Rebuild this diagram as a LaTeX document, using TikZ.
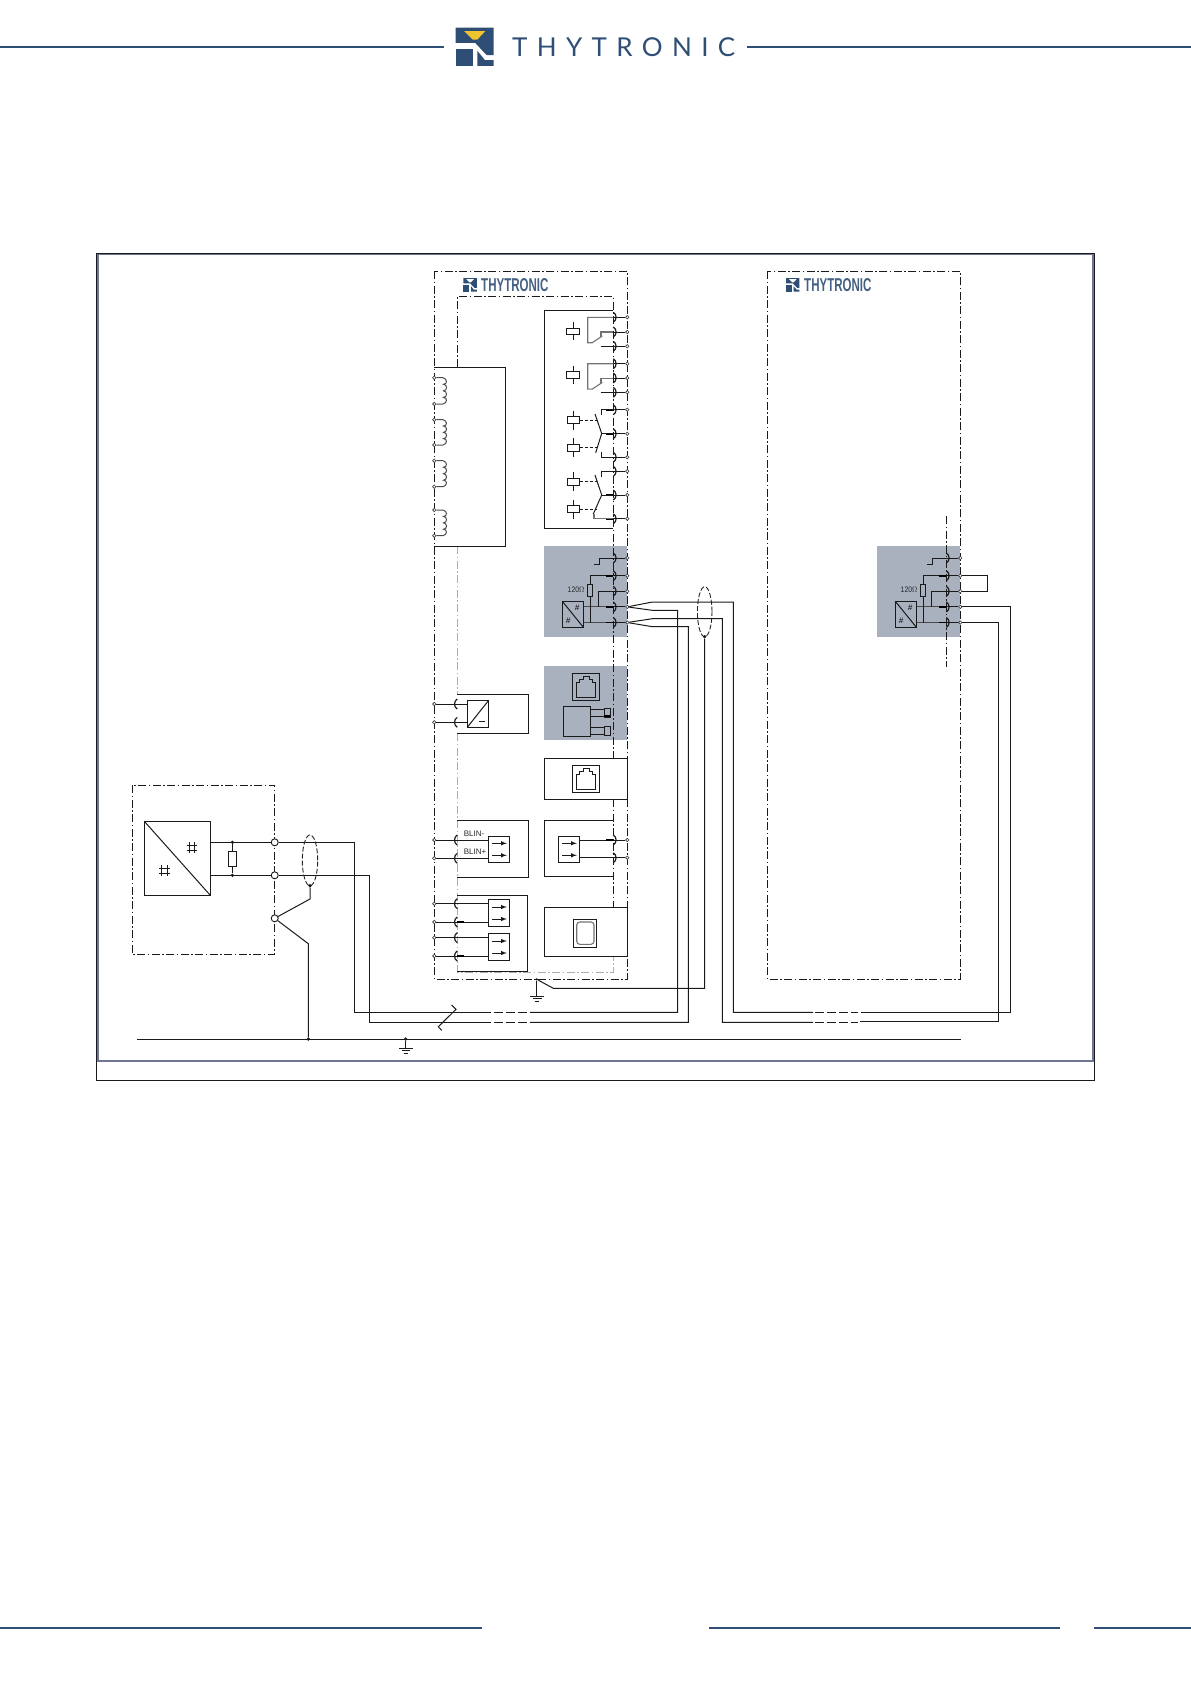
\documentclass[tikz,border=0pt]{standalone}
\usepackage{fontspec}
\setmainfont{Liberation Sans}
\newfontfamily\headfont[LetterSpace=36]{Lato}
\usepackage{xcolor}
\usetikzlibrary{calc}
\definecolor{logoblue}{HTML}{2F4E75}
\definecolor{blockgray}{HTML}{A9B1BF}
\definecolor{framegray}{HTML}{6E7596}
\definecolor{wireblack}{HTML}{1A1A1A}
\definecolor{logoyellow}{HTML}{F0C330}
\tikzset{
    wire/.style={color=wireblack, line width=1pt},
    wiregr/.style={color=black!55, line width=1.1pt},
    heavy/.style={color=black, line width=1.9pt},
    dashbox/.style={color=wireblack, line width=1pt, dash pattern=on 8pt off 2.5pt on 1.5pt off 2.5pt},
    dashgr/.style={color=black!32, line width=1pt, dash pattern=on 8pt off 2.5pt on 1.5pt off 2.5pt},
    shield/.style={color=black!85, line width=0.9pt, dash pattern=on 5pt off 2pt},
    term/.style={circle, draw=black!80, fill=white, line width=0.6pt, inner sep=0pt, minimum size=3.4pt},
    bigterm/.style={circle, draw=wireblack, fill=white, line width=0.9pt, inner sep=0pt, minimum size=7pt},
    dot/.style={circle, fill=wireblack, inner sep=0pt, minimum size=3.6pt},
    smalltext/.style={inner sep=0pt, text=black!85, font=\fontsize{8}{8}\selectfont},
    smalllogo/.style={inner sep=0pt, text=logoblue!90, font=\fontsize{18.6}{18.6}\selectfont\bfseries}
}
\newcommand{\logomark}[1]{
    \fill[logoblue] (0,0)--(38,0)--(38,27.5)--(31,27.5)--(19.5,15.2)--(0,15.2)--cycle;
    \fill[#1] (8.3,3.3)--(29.7,3.3)--(21.5,12)--(17,12)--cycle;
    \fill[logoblue] (0.3,20.8) rectangle (17,38.2);
    \fill[logoblue] (21.7,23.2)--(29.3,32.5)--(38,32.5)--(38,38.2)--(21.7,38.2)--cycle;
}
\newcommand{\hashmark}[2]{
    \draw[wire, line width=0.8pt] (#1-2.7,#2-5.3)--(#1-2.7,#2+5.3) (#1+2.7,#2-5.3)--(#1+2.7,#2+5.3);
    \draw[wire, line width=0.8pt] (#1-5.3,#2-2.7)--(#1+5.3,#2-2.7) (#1-5.3,#2+2.7)--(#1+5.3,#2+2.7);
}

\begin{document}
\begin{tikzpicture}[x=1pt,y=-1pt]
    \useasboundingbox (0,0) rectangle (1191,1684);

    % page header and footer
    \draw[logoblue, line width=1.6pt] (0,47)--(444,47);
    \draw[logoblue, line width=1.6pt] (747,47)--(1191,47);
    \begin{scope}[shift={(455.7,27.7)}]
        \logomark{logoyellow}
    \end{scope}
    \node[inner sep=0pt, anchor=west, text=logoblue, font=\fontsize{26}{26}\headfont] (headname) at (512,47) {THYTRONIC};
    \draw[logoblue, line width=1.3pt] (0,1628)--(482,1628);
    \draw[logoblue, line width=1.3pt] (709,1628)--(1060,1628);
    \draw[logoblue, line width=1.3pt] (1094,1628)--(1191,1628);

    % frame
    \draw[framegray, line width=2pt] (97.8,253.5) rectangle (1093.2,1061);
    \draw[wire] (96.3,253) rectangle (1094.7,1080.3);

    % gray blocks
    \fill[blockgray] (544.3,546.3) rectangle (627.3,636.7);
    \fill[blockgray] (877.3,546.3) rectangle (960.3,636.7);
    \fill[blockgray] (544.3,666) rectangle (627.3,740);

    % enclosures
    \draw[dashbox] (434.3,271.3) rectangle (627.3,979.3);
    \draw[dashbox] (767.3,271.3) rectangle (960.3,979.3);
    \draw[dashbox] (132.3,785.3) rectangle (274.7,954.3);
    \draw[dashbox] (457.3,367)--(457.3,296.3)--(613.3,296.3)--(613.3,758);
    \draw[dashbox] (613.3,799.3)--(613.3,907.3);
    \draw[dashgr] (457.3,546.3)--(457.3,694.3);
    \draw[dashgr] (457.3,733.3)--(457.3,972)--(613.3,972)--(613.3,956.3);
    \draw[dashbox] (946.7,516)--(946.7,666.7);

    \foreach \lx/\tx/\nm in {463.3/481/logoa, 786/804/logob} {
        \begin{scope}[shift={(\lx,278)},scale=0.355]
            \logomark{white}
        \end{scope}
        \node[smalllogo, anchor=west] (\nm) at (\tx,285) {\scalebox{0.62}[1]{THYTRONIC}};
    }

    % module boxes
    \draw[wire] (613.3,310.3)--(544.3,310.3)--(544.3,528.3)--(613.3,528.3);
    \draw[wire] (434.3,367.3)--(505.3,367.3)--(505.3,546.3)--(434.3,546.3);
    \draw[wire] (457.3,694.3)--(528.7,694.3)--(528.7,733.3)--(457.3,733.3);
    \draw[wire] (457.3,820.3)--(528.7,820.3)--(528.7,877.3)--(457.3,877.3);
    \draw[wire] (457.3,895.3)--(527.3,895.3)--(527.3,971.7)--(457.3,971.7);
    \draw[wire] (544.3,758.3) rectangle (627.3,799.3);
    \draw[wire] (613.3,820.3)--(544.3,820.3)--(544.3,876.7)--(613.3,876.7);
    \draw[wire] (544.3,907.3) rectangle (627.3,956.3);

    % relay outputs
    \foreach \i/\y in {1/317.3,2/332,3/346.3,4/363.7,5/378,6/392.3,7/409.7,8/433.7,9/457.3,10/471.3,11/495,12/518.7,13/840,14/857.7} {
        \node[term] (tr\i) at (627.3,\y) {};
        \draw[wire] (tr\i)--(613.3,\y);
        \draw[wire, line width=1.2pt] (613.3,\y-5) .. controls (617,\y-3) and (617,\y+3) .. (613.3,\y+5);
    }
    \foreach \y in {332,409.7,433.7,495,518.7,840} {
        \draw[heavy] (606,\y)--(613.3,\y);
    }

    % relay 1 and 2
    \foreach \dy/\cy in {0/0, 46.4/43.7} {
        \draw[wire] (566.3,328+\cy) rectangle (579.7,334.7+\cy);
        \draw[wire] (573,322+\cy)--(573,328+\cy) (573,334.7+\cy)--(573,340.3+\cy);
        \draw[wiregr] (613.3,317.3+\dy)--(587.7,317.3+\dy)--(587.7,342.7+\dy)--(592.3,342.7+\dy)--(602.3,336+\dy);
        \draw[wiregr] (613.3,332+\dy)--(601,332+\dy)--(601,337+\dy);
        \draw[wire] (600.7,346.3+\dy)--(613.3,346.3+\dy);
    }

    % relay 3 and 4
    \foreach \a/\b in {416.7/444,478.3/505.7} {
        \draw[wire] (567.3,\a) rectangle (579.7,\a+7);
        \draw[wire] (573.5,\a-6)--(573.5,\a) (573.5,\a+7)--(573.5,\a+13);
        \draw[wire, densely dashed] (579.7,\a+3.5)--(597,\a+3.5);
        \draw[wire] (567.3,\b) rectangle (579.7,\b+7);
        \draw[wire] (573.5,\b-6)--(573.5,\b) (573.5,\b+7)--(573.5,\b+13);
        \draw[wire, densely dashed] (579.7,\b+3.5)--(597,\b+3.5);
    }
    \draw[wire] (613.3,409.7)--(601,409.7)--(601,415);
    \draw[wire] (595,414)--(601.7,433.5)--(595.7,452.7);
    \draw[wire] (601.7,433.7)--(613.3,433.7);
    \draw[wire] (613.3,457.3)--(601,457.3)--(601,451.7);
    \draw[wire] (613.3,471.3)--(601,471.3)--(601,476.7);
    \draw[wire] (595,475)--(601.7,495)--(593.3,514);
    \draw[wire] (601.7,495)--(613.3,495);
    \draw[wiregr] (613.3,518.7)--(594,518.7)--(594,514);

    % current transformers
    \foreach \i/\a/\b in {1/377.7/404, 2/419.7/445, 3/460.7/486.7, 4/510/535.7} {
        \node[term] (ct\i a) at (434.3,\a) {};
        \node[term] (ct\i b) at (434.3,\b) {};
        \draw[wire, color=black!70] (ct\i a)--(443,\a)
            .. controls (447.5,\a+1) and (447.5,{\a+(\b-\a)*0.25}) .. (443.5,{\a+(\b-\a)*0.25})
            .. controls (447.5,{\a+(\b-\a)*0.25}) and (447.5,{\a+(\b-\a)*0.5}) .. (443.5,{\a+(\b-\a)*0.5})
            .. controls (447.5,{\a+(\b-\a)*0.5}) and (447.5,{\a+(\b-\a)*0.75}) .. (443.5,{\a+(\b-\a)*0.75})
            .. controls (447.5,{\a+(\b-\a)*0.75}) and (447.5,\b-1) .. (443,\b)--(ct\i b);
    }

    % comm ports of both devices
    \foreach \dx/\nm in {0/ca, 333/cb} {
        \begin{scope}[xshift=\dx pt]
            \foreach \i/\y in {1/558,2/575.7,3/591.3,4/606.9,5/622.5} {
                \node[term] (\nm\i) at (627.3,\y) {};
                \draw[wire] (\nm\i)--(613.3,\y);
                \draw[wire, line width=1.2pt] (613.3,\y-5) .. controls (617,\y-3) and (617,\y+3) .. (613.3,\y+5);
            }
            \foreach \y in {575.7,606.9,622.5} {
                \draw[heavy] (606,\y)--(613.3,\y);
            }
            \draw[wire] (562.3,601.3) rectangle (583.7,627.7);
            \draw[wire] (562.3,601.3)--(583.7,627.7);
            \node[inner sep=0pt, font=\fontsize{8}{8}\selectfont\itshape] (\nm hasha) at (577,608) {\#};
            \node[inner sep=0pt, font=\fontsize{8}{8}\selectfont\itshape] (\nm hashb) at (568,621) {\#};
            \draw[wire, color=black!70] (583.7,606.9)--(606,606.9) (583.7,622.5)--(606,622.5);
            \draw[wire] (590,584.3)--(590,575.7)--(606,575.7);
            \draw[wire] (587.5,584.3) rectangle (592.5,596.3);
            \draw[wire] (590,596.3)--(590,622.5);
            \draw[wire] (598,606.9)--(598,591.3)--(613.3,591.3);
            \draw[wire] (613.3,558)--(599.3,558)--(599.3,564.3);
            \draw[wire] (594.3,564.3)--(600,564.3);
            \node[smalltext] (\nm ohm) at (576,590) {\scalebox{0.85}[1]{120$\Omega$}};
        \end{scope}
    }
    \draw[wire] (cb2)--(987.7,575.7)--(987.7,591.3)--(cb3);

    % ethernet sockets
    \foreach \y in {673.3,765.3} {
        \begin{scope}[yshift=-\y pt]
            \draw[wire] (572.3,0) rectangle (599.7,27.4);
            \draw[wire] (576.3,24)--(595.7,24)--(595.7,9)--(592.3,9)--(592.3,5.7)--(589,5.7)--(589,2.7)--(583,2.7)--(583,5.7)--(579.7,5.7)--(579.7,9)--(576.3,9)--cycle;
        \end{scope}
    }

    % fibre connectors
    \draw[wire] (563.3,706.3) rectangle (590.7,736.3);
    \foreach \a/\b in {709.3/716.7, 727.3/734} {
        \draw[wire] (590.7,\a)--(604,\a) (590.7,\b)--(604,\b);
        \draw[wire] (604,\a-1) rectangle (610.7,\b+1);
    }
    \draw[heavy] (604,715.7)--(610,715.7);

    % aux supply
    \foreach \i/\y in {1/704,2/722.3} {
        \node[term] (ps\i) at (434.3,\y) {};
        \draw[wire] (ps\i)--(467.3,\y);
        \draw[wire, line width=1.2pt] (457.3,\y-5) .. controls (453.6,\y-3) and (453.6,\y+3) .. (457.3,\y+5);
    }
    \draw[wire, fill=white] (467.3,700.3) rectangle (488.7,727.3);
    \draw[wire] (467.3,727.3)--(488.7,700.3);
    \draw[wire] (479,721.5)--(485,721.5);

    % binary i/o on the left
    \foreach \i/\y in {1/840,2/858.3,3/903.7,4/922,5/937.7,6/956} {
        \node[term] (bi\i) at (434.3,\y) {};
        \draw[wire] (bi\i)--(488.3,\y);
        \draw[wire, line width=1.2pt] (457.3,\y-5) .. controls (453.6,\y-3) and (453.6,\y+3) .. (457.3,\y+5);
    }
    \foreach \y in {922,956} {
        \draw[heavy] (457.3,\y)--(464,\y);
    }
    \node[smalltext, anchor=west] (blinm) at (463.7,833.5) {BLIN-};
    \node[smalltext, anchor=west] (blinp) at (463.7,852) {BLIN+};
    \foreach \bx/\a/\b/\ya/\yb in {488.3/836.3/862.3/843.3/855.3, 488.3/899.3/926.3/907/919, 488.3/933.3/960.7/941/953, 558.3/836.3/862.3/843.3/855.3} {
        \draw[wire, fill=white] (\bx,\a) rectangle (\bx+21.4,\b);
        \foreach \yy in {\ya,\yb} {
            \draw[wire, -latex] (\bx+4,\yy)--(\bx+18.5,\yy);
        }
    }
    \draw[wire] (579.7,840)--(606,840);
    \draw[wire] (579.7,857.7)--(613.3,857.7);

    % front port
    \draw[wire] (573.3,919.3) rectangle (596.7,947.7);
    \draw[wiregr, rounded corners=3pt] (576.7,922) rectangle (594,944.3);

    % external converter
    \node[bigterm] (ea) at (274.7,842.3) {};
    \node[bigterm] (eb) at (274.7,875.3) {};
    \node[bigterm] (ec) at (274.7,918.3) {};
    \draw[wire] (144.3,821.3) rectangle (210.3,895.3);
    \draw[wire] (144.3,821.3)--(210.3,895.3);
    \hashmark{192}{847.7}
    \hashmark{164.3}{870.7}
    \node[dot] (ra) at (232.4,842.3) {};
    \node[dot] (rb) at (232.4,875.3) {};
    \draw[wire] (210.3,842.3)--(ea);
    \draw[wire] (210.3,875.3)--(eb);
    \draw[wire] (ra)--(232.4,851.3) (232.4,866.3)--(rb);
    \draw[wire] (228.3,851.3) rectangle (236.7,866.3);

    % buses
    \coordinate (busaw) at (354.3,1012.3);
    \coordinate (busbw) at (369.3,1022.3);
    \coordinate (busae) at (677.7,1012.3);
    \coordinate (busbe) at (688.3,1022.3);
    \coordinate (forkaw) at (652.3,602);
    \coordinate (forkax) at (652.3,610.3);
    \coordinate (forkbw) at (652.3,618.7);
    \coordinate (forkbx) at (652.3,626.7);
    \draw[wire] (ea)--(354.3,842.3)--(busaw)--(482,1012.3);
    \draw[wire] (eb)--(369.3,875.3)--(busbw)--(482,1022.3);
    \draw[wire, dash pattern=on 9pt off 3pt] (482,1012.3)--(530,1012.3);
    \draw[wire, dash pattern=on 9pt off 3pt] (482,1022.3)--(530,1022.3);
    \draw[wire] (530,1012.3)--(busae)--(677.7,610.3)--(forkax)--(ca4);
    \draw[wire] (530,1022.3)--(busbe)--(688.3,626.7)--(forkbx)--(ca5);
    \draw[wire] (ca4)--(forkaw)--(733.3,602)--(733.3,1012.3)--(813,1012.3);
    \draw[wire] (ca5)--(forkbw)--(722.3,618.7)--(722.3,1022.3)--(813,1022.3);
    \draw[wire, dash pattern=on 9pt off 3pt] (815,1012.3)--(858,1012.3);
    \draw[wire, dash pattern=on 9pt off 3pt] (815,1022.3)--(858,1022.3);
    \draw[wire] (861,1012.3)--(1010.3,1012.3)--(1010.3,606.9)--(cb4);
    \draw[wire] (860,1021.5)--(998.5,1021.5)--(998.5,622.5)--(cb5);

    % bus slash mark
    \draw[wire] (451.7,1005)--(456,1009.3)--(438.3,1026.7)--(441.7,1030.3);

    % shields
    \draw[shield] (310,860.3) ellipse [x radius=7.7pt, y radius=25.4pt];
    \draw[shield] (704.7,611.7) ellipse [x radius=7.3pt, y radius=25pt];
    \node[dot] (sha) at (310,885.7) {};
    \node[dot] (shb) at (704.7,636.7) {};
    \draw[wire] (sha)--(310,899)--(ec);

    % ground lines
    \node[dot] (ga) at (308.3,1039) {};
    \node[dot] (gb) at (405.7,1039) {};
    \node[dot, minimum size=2.5pt] (gc) at (536.7,979.3) {};
    \draw[wire] (137.3,1039)--(961,1039);
    \draw[wire] (ec)--(308.3,943.7)--(ga);
    \draw[wire] (gb)--(405.7,1048.3);
    \draw[wire] (399,1048.3)--(412.5,1048.3) (401.5,1050.7)--(410,1050.7) (403.5,1053)--(408,1053);
    \draw[wire] (gc)--(536.7,996);
    \draw[wire] (530,996)--(544,996) (532.5,998.5)--(541.5,998.5) (534.5,1001)--(539,1001);
    \draw[wire] (gc)--(553.3,988.3)--(704.7,988.3)--(shb);
\end{tikzpicture}
\end{document}
